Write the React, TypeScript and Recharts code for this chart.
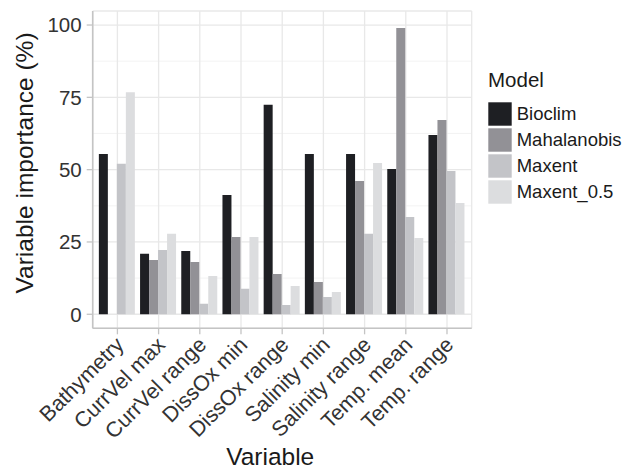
import React from 'react';
import { BarChart, Bar, XAxis, YAxis, CartesianGrid, Legend } from 'recharts';

const categories = ['Bathymetry', 'CurrVel max', 'CurrVel range', 'DissOx min', 'DissOx range', 'Salinity min', 'Salinity range', 'Temp. mean', 'Temp. range'];
const bioclim = [55.4, 20.9, 21.9, 41.2, 72.4, 55.4, 55.4, 50.2, 62.0];
const mahalanobis = [0, 18.8, 18.1, 26.7, 13.9, 11.2, 46.1, 99.0, 67.2];
const maxent = [52.0, 22.2, 3.6, 8.8, 3.2, 6.0, 27.8, 33.6, 49.5];
const maxent05 = [76.8, 27.8, 13.2, 26.7, 9.8, 7.7, 52.3, 26.4, 38.5];
const yTicks = [0, 25, 50, 75, 100];
const yMinor = [12.5, 37.5, 62.5, 87.5];

const data = categories.map((name, i) => ({
  name,
  Bioclim: bioclim[i],
  Mahalanobis: mahalanobis[i],
  Maxent: maxent[i],
  Maxent_05: maxent05[i],
}));

const FONT = '"Liberation Sans", Arial, Helvetica, sans-serif';
const BORDER = '#c4c4c4';

const XTick = (props: any) => {
  const { x, y, payload } = props;
  const ax = x - 3;
  const ay = y - 3;
  return (
    <text
      x={ax}
      y={ay}
      dy="0.71em"
      textAnchor="end"
      transform={`rotate(-45, ${ax}, ${ay})`}
      fontSize={21.5}
      fontFamily={FONT}
      fill="#333"
    >
      {payload.value}
    </text>
  );
};

const LegendContent = (props: any) => {
  const { payload } = props;
  return (
    <svg width={139} height={150} style={{ display: 'block' }}>
      <text x={2} y={26.7} fontSize={20.5} fontFamily={FONT} fill="#1a1a1a">Model</text>
      {(payload || []).map((e: any, i: number) => (
        <g key={i}>
          <rect x={2.3} y={42.3 + 26 * i} width={23.4} height={23.4} fill={e.color} />
          <text x={30.7} y={60.2 + 26 * i} fontSize={18.5} fontFamily={FONT} fill="#1a1a1a">{e.value}</text>
        </g>
      ))}
    </svg>
  );
};

export default function App() {
  return (
    <div style={{ position: 'absolute', left: 0, top: 0, width: 625, height: 470, background: '#fff' }}>
      <BarChart
        width={625}
        height={470}
        data={data}
        margin={{ top: 11, right: 153.3, bottom: 0, left: 0 }}
        barCategoryGap="5%"
        barGap={0}
      >
        <CartesianGrid horizontalValues={yMinor} vertical={false} stroke="#f0f0f0" strokeWidth={0.8} />
        <CartesianGrid stroke="#e8e8e8" strokeWidth={1.3} />
        <XAxis
          dataKey="name"
          type="category"
          height={141.7}
          padding={{ left: 4.1, right: 4.1 }}
          interval={0}
          tickSize={6}
          tickMargin={4}
          tickLine={{ stroke: BORDER, strokeWidth: 1.3 }}
          axisLine={{ stroke: BORDER, strokeWidth: 1.6 }}
          tick={<XTick />}
          label={{
            content: (p: any) => {
              const vb = p.viewBox;
              return (
                <text x={vb.x + vb.width / 2 - 12} y={464.5} textAnchor="middle" fontSize={24.5} fontFamily={FONT} fill="#1a1a1a">
                  Variable
                </text>
              );
            },
          }}
        />
        <XAxis
          xAxisId="top"
          dataKey="name"
          orientation="top"
          height={0}
          tick={false}
          tickLine={false}
          axisLine={{ stroke: BORDER, strokeWidth: 1.6 }}
        />
        <YAxis
          type="number"
          width={92.7}
          domain={[-4.85, 104.85]}
          ticks={yTicks}
          interval={0}
          allowDataOverflow
          tickSize={6}
          tickMargin={5}
          tickLine={{ stroke: BORDER, strokeWidth: 1.3 }}
          axisLine={{ stroke: BORDER, strokeWidth: 1.6 }}
          tick={{ fontSize: 20.5, fontFamily: FONT, fill: '#333' }}
          label={{
            content: (p: any) => {
              const vb = p.viewBox;
              const cx = vb.x + 33;
              const cy = vb.y + vb.height / 2 - 6.7;
              return (
                <text x={cx} y={cy} textAnchor="middle" transform={`rotate(-90, ${cx}, ${cy})`} fontSize={24.5} fontFamily={FONT} fill="#1a1a1a">
                  Variable importance (%)
                </text>
              );
            },
          }}
        />
        <YAxis
          yAxisId="right"
          orientation="right"
          type="number"
          width={0}
          domain={[-4.85, 104.85]}
          allowDataOverflow
          tick={false}
          tickLine={false}
          axisLine={{ stroke: BORDER, strokeWidth: 1.6 }}
        />
        <Legend
          layout="vertical"
          align="center"
          verticalAlign="middle"
          content={<LegendContent />}
          wrapperStyle={{ position: 'absolute', left: 486, top: 60, width: 139, height: 150 }}
        />
        <Bar dataKey="Bioclim" name="Bioclim" fill="#1e1f23" isAnimationActive={false} />
        <Bar dataKey="Mahalanobis" name="Mahalanobis" fill="#929196" isAnimationActive={false} />
        <Bar dataKey="Maxent" name="Maxent" fill="#c3c4c8" isAnimationActive={false} />
        <Bar dataKey="Maxent_05" name="Maxent_0.5" fill="#dcdddf" isAnimationActive={false} />
      </BarChart>
    </div>
  );
}
